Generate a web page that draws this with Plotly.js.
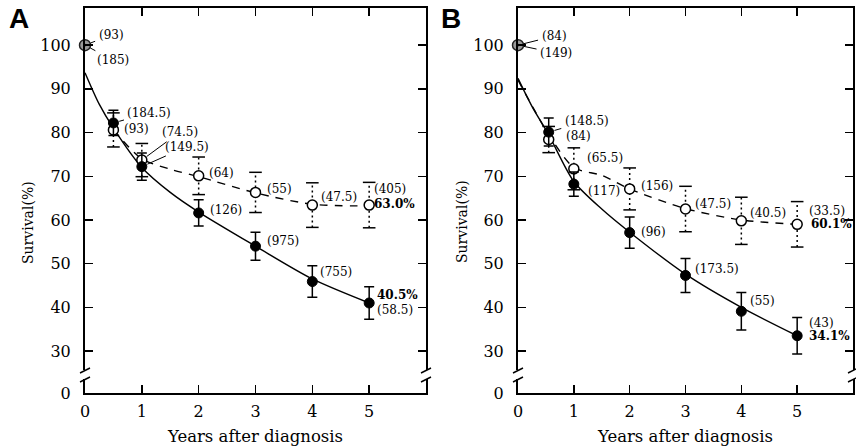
<!DOCTYPE html>
<html>
<head>
<meta charset="utf-8">
<script src="https://cdn.plot.ly/plotly-3.0.1.min.js"></script>
<style>html,body{margin:0;padding:0;background:#fff;}#chart{width:856px;height:447px;}</style>
</head>
<body>
<div id="chart"></div>
<script>
// ---------- DATA ----------
const yearsA = [0, 0.5, 1, 2, 3, 4, 5];
const filledA = [100, 82.2, 72.2, 61.6, 54.0, 45.9, 41.0];
const filledErrA = [0, 2.9, 3.1, 3.0, 3.2, 3.6, 3.7];
const openA = [100, 80.6, 73.7, 70.1, 66.3, 63.4, 63.4];
const openErrA = [0, 3.9, 3.8, 4.3, 4.6, 5.1, 5.2];
const fitSolidXA = [0, 0.25, 0.5, 1, 1.5, 2, 3, 4, 5];
const fitSolidYA = [93.7, 86.5, 81.0, 72.0, 66.3, 61.8, 54.0, 46.5, 41.0];
const fitDashXA = [0.5, 1, 1.5, 2, 3, 4, 5];
const fitDashYA = [80.6, 74.0, 71.6, 69.9, 66.2, 63.6, 63.2];
const filledLabelsA = ['(185)', '(184.5)', '(149.5)', '(126)', '(975)', '(755)', '(58.5)'];
const openLabelsA = ['(93)', '(93)', '(74.5)', '(64)', '(55)', '(47.5)', '(405)'];
const finalLabelsA = ['40.5%', '63.0%'];   // [filled, open]

const yearsB = [0, 0.55, 1, 2, 3, 4, 5];
const filledB = [100, 80.1, 68.2, 57.1, 47.3, 39.1, 33.5];
const filledErrB = [0, 3.2, 2.8, 3.6, 3.9, 4.3, 4.2];
const openB = [100, 78.4, 71.7, 67.1, 62.5, 59.8, 59.0];
const openErrB = [0, 3.0, 4.8, 4.8, 5.2, 5.4, 5.2];
const fitSolidXB = [0, 0.25, 0.55, 1, 1.5, 2, 3, 4, 5];
const fitSolidYB = [92.4, 86.0, 79.5, 68.8, 62.5, 57.2, 47.6, 40.0, 33.5];
const fitDashXB = [0, 0.3, 0.55, 1, 1.5, 2, 3, 4, 5];
const fitDashYB = [92.0, 85.0, 79.5, 72.0, 70.2, 67.1, 62.6, 60.0, 59.0];
const filledLabelsB = ['(149)', '(148.5)', '(117)', '(96)', '(173.5)', '(55)', '(43)'];
const openLabelsB = ['(84)', '(84)', '(65.5)', '(156)', '(47.5)', '(40.5)', '(33.5)'];
const finalLabelsB = ['34.1%', '60.1%'];

const xTickVals = [0, 1, 2, 3, 4, 5];
const xTickText = ['0', '1', '2', '3', '4', '5'];
const yTickText = ['0', '30', '40', '50', '60', '70', '80', '90', '100'];
const yTickNums = [30, 40, 50, 60, 70, 80, 90, 100];
const xTitle = 'Years after diagnosis';
const yTitle = 'Survival(%)';
const panelNames = ['A', 'B'];

// ---------- LAYOUT HELPERS ----------
const W = 856, H = 447;
const Y_LO = 20.4, Y_HI = 108.5;   // broken axis: bottom edge stands for 0
const SERIF = 'DejaVu Serif, serif';
const px2x = p => p / W;
const px2y = p => 1 - p / H;

const panels = [
  {xa: 'x', ya: 'y', dom: [px2x(85), px2x(426)], years: yearsA, filled: filledA, fErr: filledErrA,
   open: openA, oErr: openErrA, sx: fitSolidXA, sy: fitSolidYA, dx: fitDashXA, dy: fitDashYA,
   fl: filledLabelsA, ol: openLabelsA, fin: finalLabelsA,
   fPos: [{ax: 28, ay: 15}, {ax: 36, ay: -10}, {ax: 45, ay: -20}, [9, 3], [9, 5], [6, 10], [6, -7]],
   oPos: [{ax: 26, ay: -10}, [9, 1], {ax: 38, ay: -28}, [8, 3], [9, 3], [7, 8], [3, 16]],
   finPos: [[6, 8], [3, 1]], titleX: 28, letterX: 19},
  {xa: 'x2', ya: 'y2', dom: [px2x(518), px2x(853)], years: yearsB, filled: filledB, fErr: filledErrB,
   open: openB, oErr: openErrB, sx: fitSolidXB, sy: fitSolidYB, dx: fitDashXB, dy: fitDashYB,
   fl: filledLabelsB, ol: openLabelsB, fin: finalLabelsB,
   fPos: [{ax: 38, ay: 8}, {ax: 38, ay: -11}, [12, -7], [9, 1], [7, 6], [7, 10], [10, 13]],
   oPos: [{ax: 36, ay: -9}, [15, 4], [11, 11], [9, 3], [7, 5], [7, 8], [10, 13]],
   finPos: [[10, 0], [12, 0]], titleX: 462, letterX: 451}
];

const traces = [];
const annotations = [];
const shapes = [];
const layout = {
  width: W, height: H, margin: {l: 0, r: 0, t: 0, b: 0},
  paper_bgcolor: '#fff', plot_bgcolor: '#fff', showlegend: false,
  font: {family: SERIF, color: '#000'}
};

panels.forEach((p, i) => {
  const sfx = i === 0 ? '' : '2';
  layout['xaxis' + sfx] = {
    domain: p.dom, range: [0, 6], anchor: p.ya, tickvals: xTickVals, ticktext: xTickText,
    showline: true, linewidth: 2, linecolor: '#000', mirror: 'ticks', ticks: 'inside',
    ticklen: 8, tickwidth: 1.5, tickcolor: '#000', showgrid: false, zeroline: false,
    tickfont: {family: SERIF, size: 16, color: '#000'}, ticklabelstandoff: 3,
    title: {text: xTitle, font: {family: SERIF, size: 16.5, color: '#000'}, standoff: 10}
  };
  layout['yaxis' + sfx] = {
    domain: [px2y(393), px2y(8)], range: [Y_LO, Y_HI], anchor: p.xa,
    tickvals: [Y_LO].concat(yTickNums), ticktext: yTickText,
    showline: true, linewidth: 2, linecolor: '#000', mirror: 'ticks', ticks: 'inside',
    ticklen: 8, tickwidth: 1.5, tickcolor: '#000', showgrid: false, zeroline: false,
    tickfont: {family: SERIF, size: 16, color: '#000'}, ticklabelstandoff: 9
  };

  const n = p.years.length;
  const yrs = p.years.slice(1);
  // fitted curves
  traces.push({x: p.sx, y: p.sy, xaxis: p.xa, yaxis: p.ya, mode: 'lines', hoverinfo: 'skip',
    line: {color: '#000', width: 1.4, shape: 'spline', smoothing: 0.8}});
  traces.push({x: p.dx, y: p.dy, xaxis: p.xa, yaxis: p.ya, mode: 'lines', hoverinfo: 'skip',
    line: {color: '#000', width: 1.4, shape: 'spline', smoothing: 0.8, dash: '8px,7px'}});
  // dotted error bars for open circles
  const ex = [], ey = [], cx = [], cy = [];
  for (let k = 1; k < n; k++) {
    const lo = p.open[k] - p.oErr[k], hi = p.open[k] + p.oErr[k];
    ex.push(p.years[k], p.years[k], null); ey.push(lo, hi, null);
    cx.push(p.years[k], p.years[k]); cy.push(lo, hi);
  }
  traces.push({x: ex, y: ey, xaxis: p.xa, yaxis: p.ya, mode: 'lines', hoverinfo: 'skip',
    line: {color: '#000', width: 1.5, dash: '2px,3px'}});
  traces.push({x: cx, y: cy, xaxis: p.xa, yaxis: p.ya, mode: 'markers', hoverinfo: 'skip',
    marker: {symbol: 'line-ew-open', size: 9, color: '#000', line: {color: '#000', width: 1.5}}});
  // open circles
  traces.push({x: yrs, y: p.open.slice(1), xaxis: p.xa, yaxis: p.ya, mode: 'markers',
    marker: {symbol: 'circle', size: 10, color: '#fff', line: {color: '#000', width: 1.5}}});
  // filled circles with solid error bars
  traces.push({x: yrs, y: p.filled.slice(1), xaxis: p.xa, yaxis: p.ya, mode: 'markers',
    error_y: {type: 'data', array: p.fErr.slice(1), color: '#000', thickness: 1.5, width: 5},
    marker: {symbol: 'circle', size: 10, color: '#000', line: {color: '#000', width: 1}}});
  // shared start point
  traces.push({x: [p.years[0]], y: [p.filled[0]], xaxis: p.xa, yaxis: p.ya, mode: 'markers',
    cliponaxis: false,
    marker: {symbol: 'circle-dot', size: 11, color: '#9a9a9a', line: {color: '#222', width: 1.5}}});

  // value labels
  const addLabel = (txt, x, y, pos, bold) => {
    const base = {text: txt, x: x, y: y, xref: p.xa, yref: p.ya,
      font: {family: SERIF, size: 12, color: '#000', weight: bold ? 'bold' : 'normal'}};
    if (Array.isArray(pos)) {
      annotations.push(Object.assign(base, {showarrow: false, xanchor: 'left', yanchor: 'middle',
        xshift: pos[0], yshift: pos[1]}));
    } else {
      annotations.push(Object.assign(base, {showarrow: true, arrowhead: 0, arrowwidth: 1,
        arrowcolor: '#000', ax: pos.ax, ay: pos.ay, standoff: 6, startstandoff: 2}));
    }
  };
  for (let k = 0; k < n; k++) {
    addLabel(p.fl[k], p.years[k], p.filled[k], p.fPos[k], false);
    addLabel(p.ol[k], p.years[k], p.open[k], p.oPos[k], false);
  }
  addLabel(p.fin[0], p.years[n - 1], p.filled[n - 1], p.finPos[0], true);
  addLabel(p.fin[1], p.years[n - 1], p.open[n - 1], p.finPos[1], true);

  // y title and panel letter
  annotations.push({text: yTitle, xref: 'paper', yref: 'paper', x: px2x(p.titleX), y: px2y(222),
    xanchor: 'center', yanchor: 'middle',
    showarrow: false, textangle: -90, font: {family: SERIF, size: 14, color: '#000'}});
  annotations.push({text: '<b>' + panelNames[i] + '</b>', xref: 'paper', yref: 'paper',
    x: px2x(p.letterX), y: px2y(19), xanchor: 'center', yanchor: 'middle', showarrow: false,
    font: {family: 'Liberation Sans, Arial, sans-serif', size: 28, color: '#000'}});

  // axis breaks on left and right axes
  [p.dom[0], p.dom[1]].forEach(xp => {
    const xc = xp * W;
    shapes.push({type: 'rect', xref: 'paper', yref: 'paper', x0: px2x(xc - 4), x1: px2x(xc + 4),
      y0: px2y(379), y1: px2y(370), fillcolor: '#fff', line: {width: 0}, layer: 'above'});
    shapes.push({type: 'line', xref: 'paper', yref: 'paper', x0: px2x(xc - 5), y0: px2y(373),
      x1: px2x(xc + 5), y1: px2y(368), line: {color: '#000', width: 1.5}, layer: 'above'});
    shapes.push({type: 'line', xref: 'paper', yref: 'paper', x0: px2x(xc - 5), y0: px2y(382),
      x1: px2x(xc + 5), y1: px2y(377), line: {color: '#000', width: 1.5}, layer: 'above'});
  });
});

layout.annotations = annotations;
layout.shapes = shapes;
Plotly.newPlot('chart', traces, layout, {staticPlot: true, displayModeBar: false});
</script>
</body>
</html>
